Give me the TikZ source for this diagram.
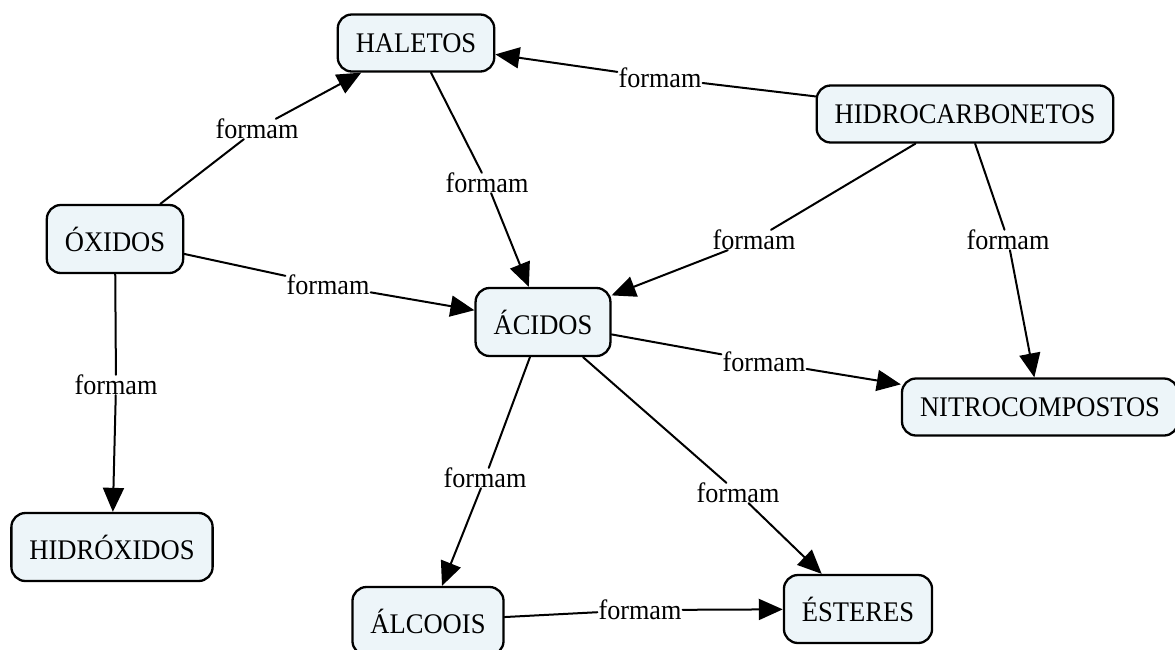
\documentclass[tikz,border=0pt]{standalone}
\usepackage{fontspec}
\setmainfont[FakeStretch=0.935]{Liberation Serif}
\usetikzlibrary{arrows.meta}
\definecolor{cmapfill}{RGB}{237,245,249}

\begin{document}
\begin{tikzpicture}[x=1pt,y=-1pt,line cap=round,line join=round,
  concept/.style={draw,line width=2.3pt,rounded corners=14pt,fill=cmapfill,
    inner xsep=18pt,inner ysep=4pt,minimum height=57pt,
    font=\fontsize{28.4}{32}\selectfont},
  tall/.style={minimum height=68pt},
  link/.style={fill=white,inner xsep=1pt,inner ysep=0pt,font=\fontsize{28}{32}\selectfont},
  conn/.style={line width=2pt},
  arr/.style={conn,-{Triangle[length=24pt,width=21pt]}}]
\useasboundingbox (0,0) rectangle (1175,649);

\node[concept] (haletos) at (416,43) {HALETOS};
\node[concept] (hidro) at (965,114) {HIDROCARBONETOS};
\node[concept,tall] (oxidos) at (115,239) {ÓXIDOS};
\node[concept,tall] (acidos) at (543,322) {ÁCIDOS};
\node[concept] (nitro) at (1040,407) {NITROCOMPOSTOS};
\node[concept,tall] (hidrox) at (112,547) {HIDRÓXIDOS};
\node[concept,tall] (alcoois) at (428,621) {ÁLCOOIS};
\node[concept,tall] (esteres) at (858,609) {ÉSTERES};

\node[link] (l1) at (660,78) {formam};
\node[link] (l2) at (257,129) {formam};
\node[link] (l3) at (487,183) {formam};
\node[link] (l4) at (754,240) {formam};
\node[link] (l5) at (1008,240) {formam};
\node[link] (l6) at (328,285) {formam};
\node[link] (l7) at (764,362) {formam};
\node[link] (l8) at (116,385) {formam};
\node[link] (l9) at (485,478) {formam};
\node[link] (l10) at (738,493) {formam};
\node[link] (l11) at (640,610) {formam};

\foreach \src/\lbl/\dst in {hidro/l1/haletos, oxidos/l2/haletos, haletos/l3/acidos,
    hidro/l4/acidos, hidro/l5/nitro, oxidos/l6/acidos, acidos/l7/nitro,
    oxidos/l8/hidrox, acidos/l9/alcoois, acidos/l10/esteres, alcoois/l11/esteres} {
  \draw[conn] (\src) -- (\lbl);
  \draw[arr] (\lbl) -- (\dst);
}
\end{tikzpicture}
\end{document}
